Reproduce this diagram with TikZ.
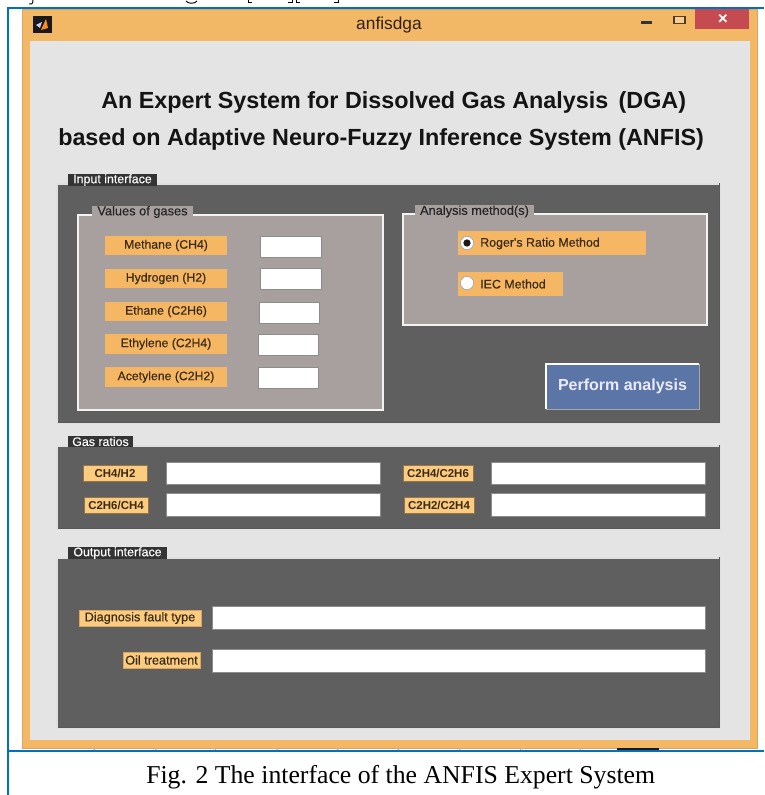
\documentclass[tikz,border=0pt]{standalone}
\usepackage{fontspec}
\setmainfont{Liberation Sans}
\newfontfamily\capfont{Liberation Serif}
\newfontfamily\uifont[FakeBold=0.3]{Liberation Sans}
\definecolor{wino}{HTML}{F3B865}
\definecolor{winoD}{HTML}{D9A560}
\definecolor{wing}{HTML}{E4E4E4}
\definecolor{pdark}{HTML}{5F5F5F}
\definecolor{pmid}{HTML}{A89F9F}
\definecolor{lbl}{HTML}{F6B764}
\definecolor{lbll}{HTML}{FBCB80}
\definecolor{txtb}{HTML}{3A2A10}
\definecolor{btn}{HTML}{5B76A6}
\definecolor{bluel}{HTML}{0070C0}
\definecolor{closer}{HTML}{C64B50}
\newcommand{\bx}[7]{% name x1 y1 x2 y2 style text
  \pgfmathsetmacro{\bxw}{(#4-#2)*0.75}%
  \pgfmathsetmacro{\bxh}{(#5-#3)*0.75}%
  \node[#6,minimum width=\bxw pt,minimum height=\bxh pt] (#1) at ({(#2+#4)/2},{(#3+#5)/2}) {#7};}
\tikzset{
  x=0.75pt,y=-0.75pt,
  base/.style={inner sep=0pt,outer sep=0pt,rectangle},
  winbar/.style={base,fill=wino,draw=winoD,line width=0.6pt},
  client/.style={base,fill=wing},
  outerpanel/.style={base,fill=pdark,draw=white!88!black,line width=1.1pt},
  innerpanel/.style={base,fill=pmid,draw=white!95!black,line width=1pt},
  darktab/.style={base,fill=pdark!55!black,text=white,font=\uifont\fontsize{9.3pt}{10pt}\selectfont},
  midtab/.style={base,fill=pmid,text=black!85,font=\uifont\fontsize{9.6pt}{10pt}\selectfont},
  gaslabel/.style={base,fill=lbl,text=txtb,font=\uifont\fontsize{9.2pt}{10pt}\selectfont},
  ratiolabel/.style={base,fill=lbll,draw=winoD!70!black,line width=0.4pt,text=txtb,font=\bfseries\fontsize{8.6pt}{9pt}\selectfont},
  outlabel/.style={base,fill=lbll,draw=winoD,line width=0.4pt,text=txtb,font=\uifont\fontsize{9.5pt}{10pt}\selectfont},
  field/.style={base,fill=white,draw=black!45,line width=0.4pt},
  action/.style={base,fill=btn,text=white!92!blue,font=\bfseries\fontsize{12pt}{13pt}\selectfont},
  radio/.style={circle,inner sep=0pt,minimum size=10pt,fill=white,draw=black!35,line width=0.5pt},
  headline/.style={inner sep=0pt,text=black!92,font=\bfseries\fontsize{17.5pt}{20pt}\selectfont},
  panelshade/.style={black!65,line width=0.7pt},
}
\begin{document}
\begin{tikzpicture}
\useasboundingbox (0,0) rectangle (764,795);
\fill[white] (0,0) rectangle (764,795);
% cropped line of the page above the figure
\begin{scope}[line width=0.7pt,black]
\draw (33,0) .. controls (33,4) and (31,5) .. (29,4);
\draw (186,1) .. controls (188,4) and (195,4) .. (197,1);
\draw (248,0) -- (248,2.5) -- (252,2.5);
\draw (292,0) -- (292,2.5) -- (288,2.5);
\draw (296,0) -- (296,2.5) -- (300,2.5);
\draw (338,0) -- (338,2.5) -- (334,2.5);
\end{scope}
% window
\bx{window}{22}{9}{757}{748}{winbar}{}
\bx{clientarea}{30}{41}{750}{740}{client}{}
\node[inner sep=0pt,text=black!75!brown,font=\fontsize{13pt}{14pt}\selectfont] (wintitle) at (389,25.5) {anfisdga};
\bx{appicon}{33}{16}{52}{33}{base,fill=black!90}{}
\fill[orange!90!white] (41,30) -- (46,19) -- (48,28) -- cycle;
\fill[white!80!blue] (36,25) -- (42,22) -- (40,28) -- cycle;
\bx{closebtn}{695}{8}{749}{29}{base,fill=closer}{}
\node[inner sep=0pt,text=white,font=\bfseries\fontsize{13pt}{13pt}\selectfont] (closex) at (723,19.5) {×};
\bx{minbtn}{641}{21}{652}{24}{base,fill=black!80}{}
\bx{maxbtn}{674}{16.5}{685}{23.5}{base,draw=black!55!brown,line width=0.8pt,fill=wino!70!white}{}
% heading
\node[headline,anchor=base west] (head1) at (101,108.5) {An Expert System for Dissolved Gas Analysis\, (DGA)};
\node[headline,anchor=base west] (head2) at (58,145.5) {based on Adaptive Neuro-Fuzzy Inference System (ANFIS)};
% input panel
\bx{inputpanel}{57}{184}{720}{423}{outerpanel}{}
\draw[panelshade] ([shift={(-1,-1)}]inputpanel.north east) -- ([shift={(-1,-1)}]inputpanel.south east) -- ([shift={(1,-1)}]inputpanel.south west);
\bx{inputtab}{68}{174}{157}{186}{darktab}{Input interface}
\bx{valuespanel}{78}{215}{383}{410}{innerpanel}{}
\bx{valuestab}{92}{206}{193}{218}{midtab}{Values of gases}
\bx{l1}{105}{236}{227}{255}{gaslabel}{Methane (CH4)}
\bx{l2}{105}{269}{227}{288}{gaslabel}{Hydrogen (H2)}
\bx{l3}{105}{302}{227}{321}{gaslabel}{Ethane (C2H6)}
\bx{l4}{105}{334}{227}{354}{gaslabel}{Ethylene (C2H4)}
\bx{l5}{105}{367}{227}{387}{gaslabel}{Acetylene (C2H2)}
\bx{f1}{260}{236}{321}{257}{field}{}
\bx{f2}{260}{268}{321}{289}{field}{}
\bx{f3}{259}{302}{319}{323}{field}{}
\bx{f4}{258}{334}{318}{355}{field}{}
\bx{f5}{258}{367}{318}{388}{field}{}
\bx{methodpanel}{403}{214}{707}{325}{innerpanel}{}
\bx{methodtab}{415}{205}{534}{218}{midtab}{Analysis method(s)}
\bx{m1}{458}{231}{646}{255}{base,fill=lbl}{}
\bx{m2}{458}{272}{563}{296}{base,fill=lbl}{}
\node[radio] (r1) at (467,243) {};
\node[radio] (r2) at (467,283) {};
\node[circle,inner sep=0pt,minimum size=5.5pt,fill=black!90] (r1dot) at (467,243) {};
\node[inner sep=0pt,anchor=west,text=txtb,font=\uifont\fontsize{9.3pt}{10pt}\selectfont] (m1t) at (480,243.5) {Roger's Ratio Method};
\node[inner sep=0pt,anchor=west,text=txtb,font=\uifont\fontsize{9.3pt}{10pt}\selectfont] (m2t) at (480,284) {IEC Method};
\bx{perform}{546}{364}{699}{409}{action}{Perform analysis}
\draw[white,line width=1.4pt] (perform.south west) -- (perform.north west) -- (perform.north east);
\draw[black!35,line width=0.6pt] (perform.north east) -- (perform.south east) -- (perform.south west);
% gas ratios
\bx{ratiopanel}{57}{446}{720}{529}{outerpanel}{}
\draw[panelshade] ([shift={(-1,-1)}]ratiopanel.north east) -- ([shift={(-1,-1)}]ratiopanel.south east) -- ([shift={(1,-1)}]ratiopanel.south west);
\bx{ratiotab}{68}{436}{133}{447}{darktab}{Gas ratios}
\bx{rl1}{83}{465}{147}{481}{ratiolabel}{CH4/H2}
\bx{rl2}{84}{497}{148}{513}{ratiolabel}{C2H6/CH4}
\bx{rf1}{166}{462}{380}{484}{field}{}
\bx{rf2}{166}{493}{380}{516}{field}{}
\bx{rl3}{403}{465}{473}{481}{ratiolabel}{C2H4/C2H6}
\bx{rl4}{404}{497}{474}{513}{ratiolabel}{C2H2/C2H4}
\bx{rf3}{491}{462}{705}{484}{field}{}
\bx{rf4}{491}{493}{705}{516}{field}{}
% output
\bx{outputpanel}{57}{558}{720}{728}{outerpanel}{}
\draw[panelshade] ([shift={(-1,-1)}]outputpanel.north east) -- ([shift={(-1,-1)}]outputpanel.south east) -- ([shift={(1,-1)}]outputpanel.south west);
\bx{outputtab}{68}{547}{167}{559}{darktab}{Output interface}
\bx{ol1}{79}{610}{201}{626}{outlabel}{Diagnosis fault type}
\bx{ol2}{123}{652}{200}{668}{outlabel}{Oil treatment}
\bx{of1}{212}{606}{705}{629}{field}{}
\bx{of2}{212}{649}{705}{672}{field}{}
% strip under the window
\foreach \tx in {94,155,215,277,337,398,459,520,580}
  \draw[black!30,line width=0.5pt] (\tx,748) -- (\tx,750);
\fill[black!90] (617,748) rectangle (659,750);
% page frame
\draw[bluel,line width=1.5pt] (764,8) -- (8,8) -- (8,795);
\draw[bluel,line width=1.5pt] (8,750.5) -- (764,750.5);
% caption
\node[inner sep=0pt,anchor=base west,text=black,font=\capfont\fontsize{19.3pt}{21pt}\selectfont] (caption) at (146,783) {Fig. 2 The interface of the ANFIS Expert System};
\end{tikzpicture}
\end{document}
